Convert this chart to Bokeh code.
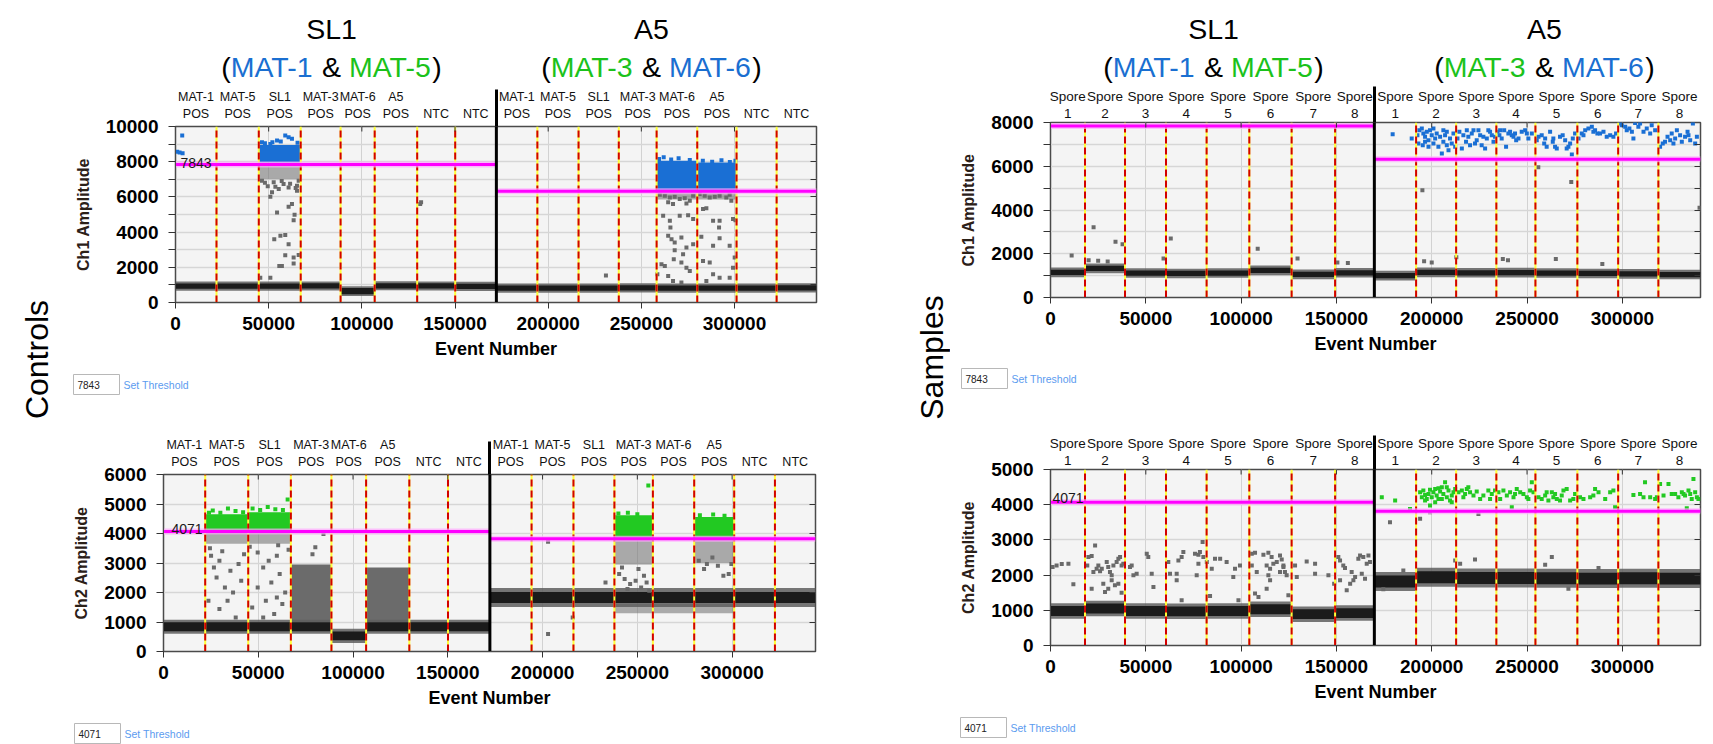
import math
from bokeh.plotting import figure
from bokeh.models import (Range1d, FixedTicker, LinearAxis, Label,
                          BasicTickFormatter, CustomJSTickFormatter)
from bokeh.layouts import row, column
from bokeh.embed import file_html
from bokeh.resources import INLINE
from bokeh.core.properties import value

FONT = "Liberation Sans"
BLUE_TXT = "#1a6fd1"
GREEN_TXT = "#1bc21b"
BLUE_PT = "#1a6fd4"
GREEN_PT = "#22c922"
RAIN = "#6a6a6a"

# ------------------------------------------------------------------ data
HEAD_LEFT = [("(", "k"), ("MAT-1", "b"), ("&", "k"), ("MAT-5", "g"), (")", "k")]
HEAD_RIGHT = [("(", "k"), ("MAT-3", "g"), ("&", "k"), ("MAT-6", "b"), (")", "k")]
HEAD_NAMES = ["SL1", "A5"]
SIDE_LABELS = ["Controls", "Samples"]

X_TICKS = [0, 50000, 100000, 150000, 200000, 250000, 300000]

CTRL_EDGES = [0, 22000, 44700, 67200, 88600, 106900, 129700, 150100, 172200,
              194200, 216300, 237900, 258200, 280000, 301100, 322600, 344000]
SAMP_EDGES = [0, 18100, 39100, 60600, 81900, 104300, 126500, 149300, 169900,
              191800, 212800, 233900, 254400, 276400, 297800, 318900, 341000]

CTRL_NAME = ["MAT-1", "MAT-5", "SL1", "MAT-3", "MAT-6", "A5", "", "",
             "MAT-1", "MAT-5", "SL1", "MAT-3", "MAT-6", "A5", "", ""]
CTRL_KIND = ["POS", "POS", "POS", "POS", "POS", "POS", "NTC", "NTC",
             "POS", "POS", "POS", "POS", "POS", "POS", "NTC", "NTC"]
SAMP_NAME = ["Spore"] * 16
SAMP_NUM = ["1", "2", "3", "4", "5", "6", "7", "8",
            "1", "2", "3", "4", "5", "6", "7", "8"]

# thresholds [left half, right half]
TH_CH1_CTRL = [7843, 6320]
TH_CH2_CTRL = [4071, 3820]
TH_CH1_SAMP = [7843, 6320]
TH_CH2_SAMP = [4071, 3815]
TH_BOX = ["7843", "4071", "7843", "4071"]

# negative droplet band centre per well, core and fuzz half widths
NEG_CH1_CTRL = [930, 930, 930, 940, 650, 950, 940, 920, 820, 820, 820, 830, 820, 820, 820, 830]
CORE_CH1_CTRL = [150] * 4 + [180] + [150] * 11
FUZZ_CH1_CTRL = [260] * 4 + [280] + [260] * 11
NEG_CH2_CTRL = [840, 840, 840, 840, 530, 840, 840, 840,
                1830, 1830, 1830, 1830, 1830, 1830, 1830, 1830]
CORE_CH2_CTRL = [150] * 8 + [190] * 8
FUZZ_CH2_CTRL = [240] * 8 + [320] * 8
NEG_CH1_SAMP = [1150, 1330, 1120, 1100, 1120, 1240, 1060, 1130,
                1000, 1150, 1130, 1140, 1120, 1100, 1080, 1050]
CORE_CH1_SAMP = [120] * 16
FUZZ_CH1_SAMP = [220] * 16
NEG_CH2_SAMP = [980, 1050, 980, 970, 980, 1030, 890, 920,
                1820, 1940, 1920, 1920, 1910, 1900, 1910, 1900]
CORE_CH2_SAMP = [140] * 8 + [170] * 8
FUZZ_CH2_SAMP = [220] * 8 + [270] * 8

# dense positive clusters (left, right, bottom, top)
POS_CH1_CTRL = [(44700, 67200, 7950, 8950), (258200, 280000, 6330, 8050), (280000, 301100, 6330, 7950)]
DENSE_CH1_CTRL = [(44700, 67200, 7000, 7850), (258200, 280000, 5850, 6250), (280000, 301100, 5850, 6250)]
POS_CH2_CTRL = [(22000, 44700, 4120, 4650), (44700, 67200, 4120, 4720),
                (237900, 258200, 3860, 4620), (280000, 301100, 3860, 4560)]
DENSE_CH2_CTRL = [(22000, 44700, 3650, 4080), (44700, 67200, 3650, 4080),
                  (237900, 258200, 2950, 3840), (280000, 301100, 3000, 3840)]
CROSS_CH2_CTRL = [(67200, 88600, 1000, 2950), (106900, 129700, 1000, 2850)]
LOWER_CH2_CTRL = [(237900, 301100, 1300, 1620)]

BLUE_CH1_CTRL = [(3600, 9490), (900, 8560), (2200, 8520), (3800, 8480), (46400, 9110), (50900, 9010),
                 (54500, 9200), (58900, 9490), (60700, 9390), (62500, 9300), (48000, 9050), (65500, 9080),
                 (56500, 9150), (52000, 9100), (259500, 8150), (262000, 8250), (266000, 8120),
                 (270000, 8200), (276000, 8100), (283000, 8050), (288000, 8000), (293000, 8080),
                 (297500, 7980), (300500, 8050)]
RAIN_CH1_CTRL = [(52700, 6830), (58000, 6730), (55400, 6450), (60700, 6540), (51800, 6260), (50900, 6010),
                 (65200, 6350), (62500, 5590), (60700, 5440), (54500, 5120), (63400, 4680), (63900, 4980),
                 (53000, 3600), (56300, 3790), (58900, 3840), (60700, 3310), (58900, 2690), (63400, 2560),
                 (66100, 2700), (63400, 2210), (55700, 2080), (57100, 2080), (45500, 1410), (50900, 1410),
                 (65200, 6640), (53600, 6580), (46400, 6920), (66100, 6920), (48000, 6800), (57000, 6900),
                 (61500, 6750), (49500, 6600), (64500, 6500), (131300, 5590), (131800, 5690),
                 (259900, 6120), (262600, 6070), (265300, 5970), (267900, 6010), (270600, 5880),
                 (273300, 5930), (276000, 5780), (277800, 6070), (264400, 5690), (267000, 5590),
                 (274200, 5630), (261700, 4930), (265300, 4640), (270600, 4930), (275100, 4960),
                 (277800, 4740), (265600, 4260), (264400, 3790), (271500, 3690), (267900, 3410),
                 (266200, 3600), (274200, 3120), (277800, 3310), (267900, 2970), (272400, 2740),
                 (267400, 2460), (271500, 2270), (260800, 2170), (262600, 2080), (274200, 1980),
                 (276000, 1790), (264400, 1510), (267000, 1220), (271500, 1130), (258600, 1600),
                 (281300, 6160), (284000, 6070), (286700, 5970), (289400, 6010), (292000, 6070),
                 (297400, 6120), (283100, 5310), (284900, 5360), (288500, 4640), (292000, 4640),
                 (291700, 4260), (299200, 4740), (300500, 4680), (282200, 3730), (292000, 3650),
                 (288500, 3220), (297400, 3220), (283100, 2360), (286700, 2270), (288500, 1600),
                 (292000, 1410), (299200, 1980), (297400, 1410), (300100, 2550), (284900, 1220),
                 (295600, 5970), (298300, 5780), (231000, 1540)]
GREEN_CH2_CTRL = [(26000, 4780), (30000, 4700), (34000, 4850), (38000, 4760), (42000, 4720),
                  (47000, 4850), (51000, 4800), (55000, 4900), (59000, 4820), (63000, 4800),
                  (65500, 5150), (24000, 4700), (240000, 4680), (245000, 4700), (250000, 4650),
                  (255800, 5630), (283000, 4620), (290000, 4640), (296000, 4600)]
RAIN_CH2_CTRL = [(25100, 3250), (29500, 3080), (26600, 2850), (35300, 2740), (39600, 2970), (32400, 2170),
                 (36700, 2000), (23700, 1720), (33800, 1720), (29500, 1440), (41000, 2400), (28000, 2510),
                 (49700, 3360), (55500, 3080), (59800, 3250), (52600, 2850), (61300, 2630), (56900, 2340),
                 (49700, 2170), (64200, 2000), (59800, 1830), (54000, 1720), (46800, 1490), (62700, 1610),
                 (58400, 1270), (52600, 1155), (38100, 1155), (84400, 3985), (80100, 3530), (78600, 3300),
                 (24500, 3500), (31000, 3400), (45500, 3550), (66000, 3450), (60500, 3600), (42500, 3300),
                 (240400, 2630), (243300, 2460), (246200, 2290), (249100, 2400), (252000, 2170),
                 (254900, 2340), (256300, 2060), (241900, 2850), (250600, 2800), (253500, 2570),
                 (244800, 2120), (233200, 2340), (282400, 3080), (286700, 2970), (292500, 2910),
                 (295400, 2570), (298200, 2630), (289600, 3190), (285200, 2800), (299600, 2970),
                 (202900, 3720), (215900, 1155), (202900, 590)]
BLUE_CH1_SAMP = [(179500, 7467),
                 (189500, 7269), (192500, 7422), (193500, 7651), (194800, 7727), (195600, 7498),
                 (196500, 7345), (197400, 7575), (198300, 7192), (199100, 7651), (200000, 7422),
                 (200900, 7039), (201800, 7269), (202600, 7498), (203500, 6886), (204400, 7345),
                 (205300, 6581), (206100, 7116), (207000, 7422), (207900, 7575), (208800, 6734),
                 (209600, 7269), (210500, 7039), (211400, 7498), (212300, 6886), (195300, 6963),
                 (198300, 6886), (196500, 7116), (193000, 7039), (200900, 7727), (206100, 7651),
                 (207900, 6963),
                 (213500, 7269), (214500, 7575), (215800, 6810), (216600, 7422), (218000, 7116),
                 (219200, 7345), (220100, 6963), (221000, 7498), (221900, 7651), (223600, 7192),
                 (224500, 7651), (225400, 7422), (226200, 6963), (228000, 6810), (228900, 7269),
                 (230600, 7575), (231500, 7422), (232400, 7116), (233200, 7345), (218400, 7651),
                 (222700, 7039), (229700, 7651), (227100, 7345),
                 (234500, 7575), (235500, 7422), (236700, 7269), (238000, 7651), (239000, 6886),
                 (240200, 7498), (242000, 7422), (242900, 7345), (244300, 7192), (245500, 7269),
                 (247200, 7575), (249000, 7651), (249900, 7498), (252500, 7498), (235900, 7651),
                 (241100, 7575), (243700, 7498), (250700, 7269),
                 (255100, 7192), (256000, 7345), (257700, 7422), (259000, 7039), (260300, 6886),
                 (262100, 7575), (263500, 7116), (264700, 6886), (265600, 6810), (267300, 7345),
                 (268700, 7422), (270000, 7192), (270800, 6810), (272600, 7039), (273500, 6535),
                 (274000, 7269), (275200, 7498), (271700, 6886), (263800, 7269), (259500, 7269),
                 (277000, 7269), (278700, 7498), (280500, 7651), (282200, 7727), (284000, 7804),
                 (285700, 7651), (286900, 7498), (288300, 7498), (291800, 7345), (293600, 7422),
                 (295300, 7345), (296700, 7498), (279600, 7422), (284800, 7575), (290100, 7575),
                 (298800, 7957), (299700, 7880), (301500, 7804), (302300, 7651), (303700, 7727),
                 (305000, 7575), (306700, 7980), (308400, 7804), (311100, 7575), (312800, 7727),
                 (315400, 7880), (317200, 7651), (305800, 7269), (309300, 7957), (314600, 7498),
                 (319800, 6886), (321200, 7039), (322400, 7116), (323700, 7345), (325100, 7192),
                 (325900, 7498), (327700, 7269), (328600, 7651), (330300, 7422), (331200, 7116),
                 (332900, 7345), (334200, 7575), (335600, 7192), (337000, 7957), (338200, 7039),
                 (326800, 7039), (334700, 7422), (339100, 7345)]
RAIN_CH1_SAMP = [(11100, 1917), (22600, 3216), (34100, 2550), (37800, 2430), (63100, 2700), (59300, 1780),
                 (108700, 2230), (129600, 1780), (195100, 4900), (273200, 5280), (196000, 1655),
                 (212900, 1840), (237300, 1760), (265100, 1760), (289500, 1530), (255900, 5950),
                 (20000, 1700), (25000, 1680), (30000, 1650), (150500, 1600), (156000, 1580),
                 (200000, 1600), (240000, 1700), (340500, 4100)]
GREEN_CH2_SAMP = [(173800, 4211), (180800, 4117), (188600, 3881),
                  (193900, 4353), (194800, 4211), (195600, 4400), (196500, 4277), (197400, 4164),
                  (198300, 4306), (199100, 4428), (200000, 4211), (200900, 4353), (201800, 4447),
                  (202600, 4258), (203500, 4164), (204400, 4372), (205300, 4494), (206100, 4306),
                  (207000, 4636), (207900, 4211), (208800, 4400), (209600, 4117), (210500, 4258),
                  (211400, 4353), (212300, 4447), (199100, 3975), (196500, 4117), (205300, 4164),
                  (210500, 4070), (201800, 4070), (207900, 4494), (203500, 4466),
                  (214000, 4353), (215800, 4400), (217500, 4306), (218400, 4447), (219200, 4494),
                  (220100, 4353), (221900, 4258), (225400, 4164), (227100, 4258), (229700, 4400),
                  (230600, 4164), (233200, 4400), (231500, 4306), (216600, 4211), (223600, 4372),
                  (235000, 4353), (235900, 4164), (237600, 4400), (239400, 4258), (241100, 4353),
                  (242000, 3928), (242900, 4211), (244600, 4447), (246400, 4353), (248100, 4306),
                  (249900, 4211), (251600, 4400), (252500, 4636), (253400, 4353), (243700, 4306),
                  (250700, 4164),
                  (256000, 4211), (257700, 4164), (259500, 4258), (261200, 4117), (263000, 4353),
                  (263800, 4211), (264700, 4306), (265600, 4164), (268200, 4258), (269100, 4400),
                  (270800, 4447), (272600, 4117), (274300, 4164), (275200, 4306), (260300, 4353),
                  (267300, 4117),
                  (277800, 4211), (279600, 4164), (283100, 4211), (285700, 4447), (287500, 4353),
                  (291000, 4164), (293600, 4353), (295300, 4400), (296200, 3928), (284800, 4258),
                  (305800, 4277), (311100, 4211), (311900, 4636), (314600, 4211), (317200, 4164),
                  (318100, 4211), (309300, 4306),
                  (319800, 4589), (321600, 4258), (324200, 4589), (325900, 4306), (327700, 4306),
                  (329400, 4211), (331200, 4353), (332900, 4258), (334700, 4400), (336400, 4164),
                  (337300, 4730), (338200, 4353), (339100, 4211), (339900, 4164), (333800, 3900),
                  (332100, 4306), (335600, 4306)]
RAIN_CH2_SAMP = [(3200, 2276), (5900, 2314), (9400, 2323), (12000, 1738), (1100, 2229),
                 (19900, 2512), (21600, 2540), (23400, 2842), (19300, 2276), (22500, 2087), (25100, 2276),
                 (26900, 2182), (27700, 1757), (29500, 2370), (30300, 2229), (31200, 2087), (33000, 2276),
                 (34700, 2370), (35600, 2465), (36500, 2512), (37300, 2276), (32100, 1851), (33800, 1710),
                 (30300, 1615), (28600, 1521), (37300, 1502), (35600, 1757), (21600, 1615), (24200, 2182),
                 (26000, 2106), (38200, 2323), (32100, 1993),
                 (43500, 1993), (41700, 2229), (45200, 2040), (50500, 2606), (51300, 2512), (53100, 2040),
                 (54000, 1662), (42600, 2276),
                 (61800, 2370), (62700, 2040), (66200, 2040), (67100, 2418), (68800, 2512), (69700, 2654),
                 (75800, 2606), (77600, 2578), (78400, 2654), (79800, 2937), (80200, 2512), (77600, 2323),
                 (76700, 1993), (66200, 1851), (68800, 1285), (84600, 2182), (82000, 2370),
                 (86300, 2465), (89000, 2465), (92400, 2370), (96800, 2182), (95900, 1946), (99400, 2276),
                 (98600, 1285), (83700, 1408),
                 (105600, 2606), (107300, 2635), (111700, 2578), (114300, 2635), (116000, 2512),
                 (113400, 2276), (115200, 2182), (116900, 2323), (118700, 2370), (120400, 2559),
                 (121300, 2446), (122200, 2276), (123000, 2087), (123900, 1993), (120400, 2087),
                 (115200, 1851), (113400, 1615), (107300, 1474), (108200, 2087), (114300, 1993),
                 (122200, 2229), (124800, 1426), (105600, 2276), (109100, 1379),
                 (128300, 2276), (134400, 2389), (138800, 2323), (138800, 2040), (145800, 1993),
                 (148800, 1757), (129200, 1946),
                 (151000, 2512), (151900, 2418), (153600, 2276), (154500, 2200), (158000, 2087),
                 (158900, 1851), (159800, 1946), (161500, 2465), (162400, 2559), (164100, 2512),
                 (165900, 2323), (167600, 2370), (163300, 2040), (165000, 1898), (155400, 1568),
                 (157200, 1757), (151900, 1851), (166800, 2559),
                 (178100, 3503), (193900, 3598), (199100, 3786), (224500, 3739), (212300, 2418),
                 (214900, 2323), (222700, 2446), (259500, 2295), (263000, 2512), (185100, 2134),
                 (287500, 2200), (271700, 1615), (174600, 1596)]

# ------------------------------------------------------------------ helpers
ADV = {'(': 333, ')': 333, 'M': 833, 'A': 667, 'T': 611, '-': 333, '1': 556, '3': 556,
       '5': 556, '6': 556, ' ': 278, '&': 667}
KERN = {"AT": -74}


def tw(s, size):
    w = sum(ADV[c] for c in s)
    w += sum(KERN.get(s[i:i + 2], 0) for i in range(len(s) - 1))
    return w / 1000.0 * size


COLS = {"k": "black", "b": BLUE_TXT, "g": GREEN_TXT}
HEAD_SIZE = 28.5


def blank_fig(width, height, xr, yr):
    f = figure(width=width, height=height, x_range=xr, y_range=yr,
               x_axis_type=None, y_axis_type=None, output_backend="svg", toolbar_location=None,
               min_border=0, outline_line_color=None, background_fill_color="white",
               border_fill_color="white", frame_align=False)
    f.grid.visible = False
    return f


def make_panel(sp):
    ox, W = sp["cx"]
    fl, fr, ft, fb = sp["frame"]
    pt, pb = sp["py"]
    xmax, ymax = sp["xmax"], sp["ymax"]

    def X(px):
        return (px - fl) / (fr - fl) * xmax

    p = figure(width=W, height=pb - pt, x_range=Range1d(0, xmax), y_range=Range1d(0, ymax),
               output_backend="svg", toolbar_location=None, frame_align=False,
               min_border_left=fl - ox, min_border_right=ox + W - fr,
               min_border_top=ft - pt, min_border_bottom=pb - fb,
               background_fill_color="#f4f4f4", border_fill_color="white",
               outline_line_color="#4a4a4a", outline_line_width=1.5)

    xa = p.xaxis[0]
    xa.ticker = FixedTicker(ticks=X_TICKS)
    xa.formatter = BasicTickFormatter(use_scientific=False)
    xa.major_label_text_font = FONT
    xa.major_label_text_font_size = "19px"
    xa.major_label_text_font_style = "bold"
    xa.major_label_text_color = "black"
    xa.major_tick_out = 6
    xa.major_tick_in = 0
    xa.minor_tick_out = 0
    xa.minor_tick_in = 0
    xa.major_label_standoff = 8
    xa.axis_line_color = "#4a4a4a"
    xa.major_tick_line_color = "#333333"
    xa.axis_label = "Event Number"
    xa.axis_label_text_font = FONT
    xa.axis_label_text_font_size = "18px"
    xa.axis_label_text_font_style = "bold"
    xa.axis_label_text_color = "black"
    xa.axis_label_standoff = 6

    ya = p.yaxis[0]
    ya.ticker = FixedTicker(ticks=sp["yticks"], minor_ticks=sp["yminor"])
    ya.major_label_text_font = FONT
    ya.major_label_text_font_size = "19px"
    ya.major_label_text_font_style = "bold"
    ya.major_label_text_color = "black"
    ya.major_tick_out = 7
    ya.major_tick_in = 0
    ya.minor_tick_out = 7
    ya.minor_tick_in = 0
    ya.major_label_standoff = 10
    ya.axis_line_color = "#4a4a4a"
    ya.major_tick_line_color = "#333333"
    ya.minor_tick_line_color = "#333333"
    ya.axis_label = sp["ylabel"]
    ya.axis_label_text_font = FONT
    ya.axis_label_text_font_size = "16px"
    ya.axis_label_text_font_style = "bold"
    ya.axis_label_text_color = "#2b2018"
    ya.axis_label_standoff = 11

    blank = CustomJSTickFormatter(code="return ''")
    right = LinearAxis(ticker=FixedTicker(ticks=sp["ygrid"]), formatter=blank, major_tick_in=6,
                       major_tick_out=0, minor_tick_in=0, minor_tick_out=0, axis_line_color=None,
                       major_label_standoff=0, major_label_text_font_size="0px",
                       major_tick_line_color="#333333")
    p.add_layout(right, "right")

    e = sp["edges"]
    lefts, rights = e[:-1], e[1:]
    d = e[8]

    # well names as two-line labels of an axis above the frame; its single long minor
    # tick continues the run divider above the frame (standoff compensates the tick)
    centers = [(a + b) // 2 for a, b in zip(lefts, rights)]
    overrides = {cx: (a + "\n" + b if a else b) for cx, a, b in zip(centers, sp["l1"], sp["l2"])}
    top = LinearAxis(ticker=FixedTicker(ticks=centers, minor_ticks=[d]),
                     major_label_overrides=overrides,
                     major_tick_out=0, major_tick_in=0, major_tick_line_color=None,
                     minor_tick_out=sp["div_ext"], minor_tick_in=0, minor_tick_line_width=3,
                     minor_tick_line_color="black", axis_line_color=None,
                     major_label_standoff=sp["std"] - sp["div_ext"], major_label_text_font=FONT,
                     major_label_text_font_size=sp["fs"], major_label_text_line_height=sp["lh"],
                     major_label_text_color="#111111")
    p.add_layout(top, "above")

    p.xgrid.ticker = FixedTicker(ticks=X_TICKS[1:])
    p.xgrid.grid_line_color = "#d2d2d2"
    p.xgrid.grid_line_width = 1
    p.ygrid.ticker = FixedTicker(ticks=sp["ygrid"])
    p.ygrid.grid_line_color = "#d6d6d6"
    p.ygrid.grid_line_width = 1.5

    c, core, fuzz = sp["neg"], sp["core"], sp["fuzz"]

    for blk, col, alpha in sp.get("blocks", []):
        p.quad(left=[b[0] for b in blk], right=[b[1] for b in blk],
               bottom=[b[2] for b in blk], top=[b[3] for b in blk],
               fill_color=col, fill_alpha=alpha, line_color=None)

    p.quad(left=lefts, right=rights, bottom=[a - f for a, f in zip(c, fuzz)],
           top=[a + f for a, f in zip(c, fuzz)], fill_color="#5e5e5e", fill_alpha=0.85, line_color=None)
    p.quad(left=lefts, right=rights, bottom=[a - k for a, k in zip(c, core)],
           top=[a + k for a, k in zip(c, core)], fill_color="#1b1b1b", line_color=None)

    for pts, col, size in sp.get("points", []):
        p.scatter(x=[q[0] for q in pts], y=[q[1] for q in pts], marker="square", size=size,
                  fill_color=col, line_color=None)

    for blk, col, alpha in sp.get("pos", []):
        p.quad(left=[b[0] for b in blk], right=[b[1] for b in blk],
               bottom=[b[2] for b in blk], top=[b[3] for b in blk],
               fill_color=col, fill_alpha=alpha, line_color=None)

    for pts, col, size in sp.get("pos_points", []):
        p.scatter(x=[q[0] for q in pts], y=[q[1] for q in pts], marker="square", size=size,
                  fill_color=col, line_color=None)

    inner = [v for i, v in enumerate(e) if i not in (0, 8, len(e) - 1)]
    n = len(inner)
    p.segment(x0=inner, x1=inner, y0=[0] * n, y1=[ymax] * n, line_color="#ffff3a", line_width=2)
    p.segment(x0=inner, x1=inner, y0=[0] * n, y1=[ymax] * n, line_color="#d20000", line_width=2,
              line_dash="7 4")

    th = sp["th"]
    p.segment(x0=[0, d], x1=[d, xmax], y0=th, y1=th, line_color="#ffa8ff", line_width=6, line_alpha=0.7)
    p.segment(x0=[0, d], x1=[d, xmax], y0=th, y1=th, line_color="#ff00ff", line_width=3)
    p.segment(x0=[d], x1=[d], y0=[0], y1=[ymax], line_color="black", line_width=3)

    # inward ticks along the top edge at the x tick positions
    tks = X_TICKS[1:]
    tick_len = 5.0 / (fb - ft) * ymax
    p.segment(x0=tks, x1=tks, y0=[ymax] * len(tks), y1=[ymax - tick_len] * len(tks),
              line_color="#333333", line_width=1)

    if sp.get("th_label"):
        tx, ty, tt = sp["th_label"]
        p.add_layout(Label(x=X(tx), y=(fb - ty) / (fb - ft) * ymax, text=tt, text_font=FONT,
                           text_font_size="14px", text_color="#1a1a1a", text_align="left",
                           text_baseline="alphabetic"))

    out = []
    # ---- strip above: run headers
    if sp.get("hy"):
        ht, hb = sp["hy"]
        h = blank_fig(W, hb - ht, Range1d(X(ox), X(ox + W)), Range1d(hb, ht))
        size = HEAD_SIZE
        fs = value(f"{size}px")
        for name, pieces, cxp in sp["headers"]:
            h.text(x=[X(cxp)], y=[28], text=[name], text_align="center", text_baseline="alphabetic",
                   text_font=value(FONT), text_font_size=fs, text_color="black")
            gap = tw(" ", size)
            total = sum(tw(t, size) for t, _ in pieces) + 2 * gap
            x = cxp - total / 2
            for t, col in pieces:
                if t == "&":
                    x += gap
                h.text(x=[X(x)], y=[66.5], text=[t], text_align="left", text_baseline="alphabetic",
                       text_font=value(FONT), text_font_size=fs, text_color=COLS[col])
                x += tw(t, size)
                if t == "&":
                    x += gap
        out.append(h)
    out.append(p)

    # ---- strip below: threshold entry box
    bt_, bb_ = sp["fy"]
    f = blank_fig(W, bb_ - bt_, Range1d(ox, ox + W), Range1d(bb_, bt_))
    bx, by, btxt = sp["box"]
    f.quad(left=[bx - 4], right=[bx + 42], top=[by - 10], bottom=[by + 10], fill_color="white",
           line_color="#b8b8b8", line_width=1)
    f.text(x=[bx], y=[by], text=[btxt], text_align="left", text_baseline="middle",
           text_font=value(FONT), text_font_size=value("10px"), text_color="#222222")
    f.text(x=[bx + 46], y=[by], text=["Set Threshold"], text_align="left", text_baseline="middle",
           text_font=value(FONT), text_font_size=value("10.5px"), text_color="#5b9bef")
    out.append(f)
    return out


def side_strip(width, text, bx, cy):
    s = blank_fig(width, 744, Range1d(0, width), Range1d(744, 0))
    s.text(x=[bx], y=[cy], text=[text], angle=math.pi / 2, text_align="center",
           text_baseline="alphabetic", text_font=value(FONT), text_font_size=value("32px"),
           text_color="black")
    return s


CTRL_COMMON = dict(edges=CTRL_EDGES, xmax=344000, l1=CTRL_NAME, l2=CTRL_KIND,
                   fs="12.5px", lh=1.2, std=6, cx=(60, 790))
SAMP_COMMON = dict(edges=SAMP_EDGES, xmax=341000, l1=SAMP_NAME, l2=SAMP_NUM,
                   fs="13.5px", lh=1.08, std=2, cx=(950, 763))

pA = make_panel(dict(CTRL_COMMON, hy=(0, 84), py=(84, 372), fy=(372, 395),
                     frame=(175, 816, 126, 302), ymax=10000,
                     yticks=[0, 2000, 4000, 6000, 8000, 10000], yminor=[1000, 3000, 5000, 7000, 9000],
                     ygrid=[1000, 2000, 3000, 4000, 5000, 6000, 7000, 8000, 9000],
                     ylabel="Ch1 Amplitude", neg=NEG_CH1_CTRL, core=CORE_CH1_CTRL, fuzz=FUZZ_CH1_CTRL,
                     blocks=[(DENSE_CH1_CTRL, "#767676", 0.6)],
                     points=[(RAIN_CH1_CTRL, RAIN, 4)],
                     pos=[(POS_CH1_CTRL, BLUE_PT, 1.0)], pos_points=[(BLUE_CH1_CTRL, BLUE_PT, 4)],
                     th=TH_CH1_CTRL, div_ext=37,
                     th_label=(180, 162, str(TH_CH1_CTRL[0])), box=(77, 384, TH_BOX[0]),
                     headers=[(HEAD_NAMES[0], HEAD_LEFT, 331), (HEAD_NAMES[1], HEAD_RIGHT, 651)]))

pB = make_panel(dict(CTRL_COMMON, py=(395, 722), fy=(722, 744),
                     frame=(163, 815, 474, 651), ymax=6000,
                     yticks=[0, 1000, 2000, 3000, 4000, 5000, 6000], yminor=[],
                     ygrid=[1000, 2000, 3000, 4000, 5000],
                     ylabel="Ch2 Amplitude", neg=NEG_CH2_CTRL, core=CORE_CH2_CTRL, fuzz=FUZZ_CH2_CTRL,
                     blocks=[(LOWER_CH2_CTRL, "#6e6e6e", 0.55), (CROSS_CH2_CTRL, "#6b6b6b", 1.0),
                             (DENSE_CH2_CTRL, "#767676", 0.6)],
                     points=[(RAIN_CH2_CTRL, RAIN, 4)],
                     pos=[(POS_CH2_CTRL, GREEN_PT, 1.0)], pos_points=[(GREEN_CH2_CTRL, GREEN_PT, 4)],
                     th=TH_CH2_CTRL, div_ext=33,
                     th_label=(171, 528.5, str(TH_CH2_CTRL[0])), box=(78, 733, TH_BOX[1])))

pC = make_panel(dict(SAMP_COMMON, hy=(0, 84), py=(84, 366), fy=(366, 390),
                     frame=(1050, 1700, 122, 297), ymax=8000,
                     yticks=[0, 2000, 4000, 6000, 8000], yminor=[1000, 3000, 5000, 7000],
                     ygrid=[1000, 2000, 3000, 4000, 5000, 6000, 7000],
                     ylabel="Ch1 Amplitude", neg=NEG_CH1_SAMP, core=CORE_CH1_SAMP, fuzz=FUZZ_CH1_SAMP,
                     points=[(RAIN_CH1_SAMP, RAIN, 4)],
                     pos_points=[(BLUE_CH1_SAMP, BLUE_PT, 4)],
                     th=TH_CH1_SAMP, div_ext=36,
                     box=(965, 378, TH_BOX[2]),
                     headers=[(HEAD_NAMES[0], HEAD_LEFT, 1213), (HEAD_NAMES[1], HEAD_RIGHT, 1544)]))

pD = make_panel(dict(SAMP_COMMON, py=(390, 716), fy=(716, 744),
                     frame=(1050, 1700, 469, 645), ymax=5000,
                     yticks=[0, 1000, 2000, 3000, 4000, 5000], yminor=[],
                     ygrid=[1000, 2000, 3000, 4000],
                     ylabel="Ch2 Amplitude", neg=NEG_CH2_SAMP, core=CORE_CH2_SAMP, fuzz=FUZZ_CH2_SAMP,
                     points=[(RAIN_CH2_SAMP, RAIN, 4)],
                     pos_points=[(GREEN_CH2_SAMP, GREEN_PT, 4)],
                     th=TH_CH2_SAMP, div_ext=34,
                     th_label=(1052, 497, str(TH_CH2_SAMP[0])), box=(964, 727, TH_BOX[3])))

s1 = side_strip(60, SIDE_LABELS[0], 36, 359)
s2 = side_strip(100, SIDE_LABELS[1], 81, 357)

layout = row(s1, column(*(pA + pB)), s2, column(*(pC + pD)))
open("out.html", "w").write(file_html(layout, INLINE))
